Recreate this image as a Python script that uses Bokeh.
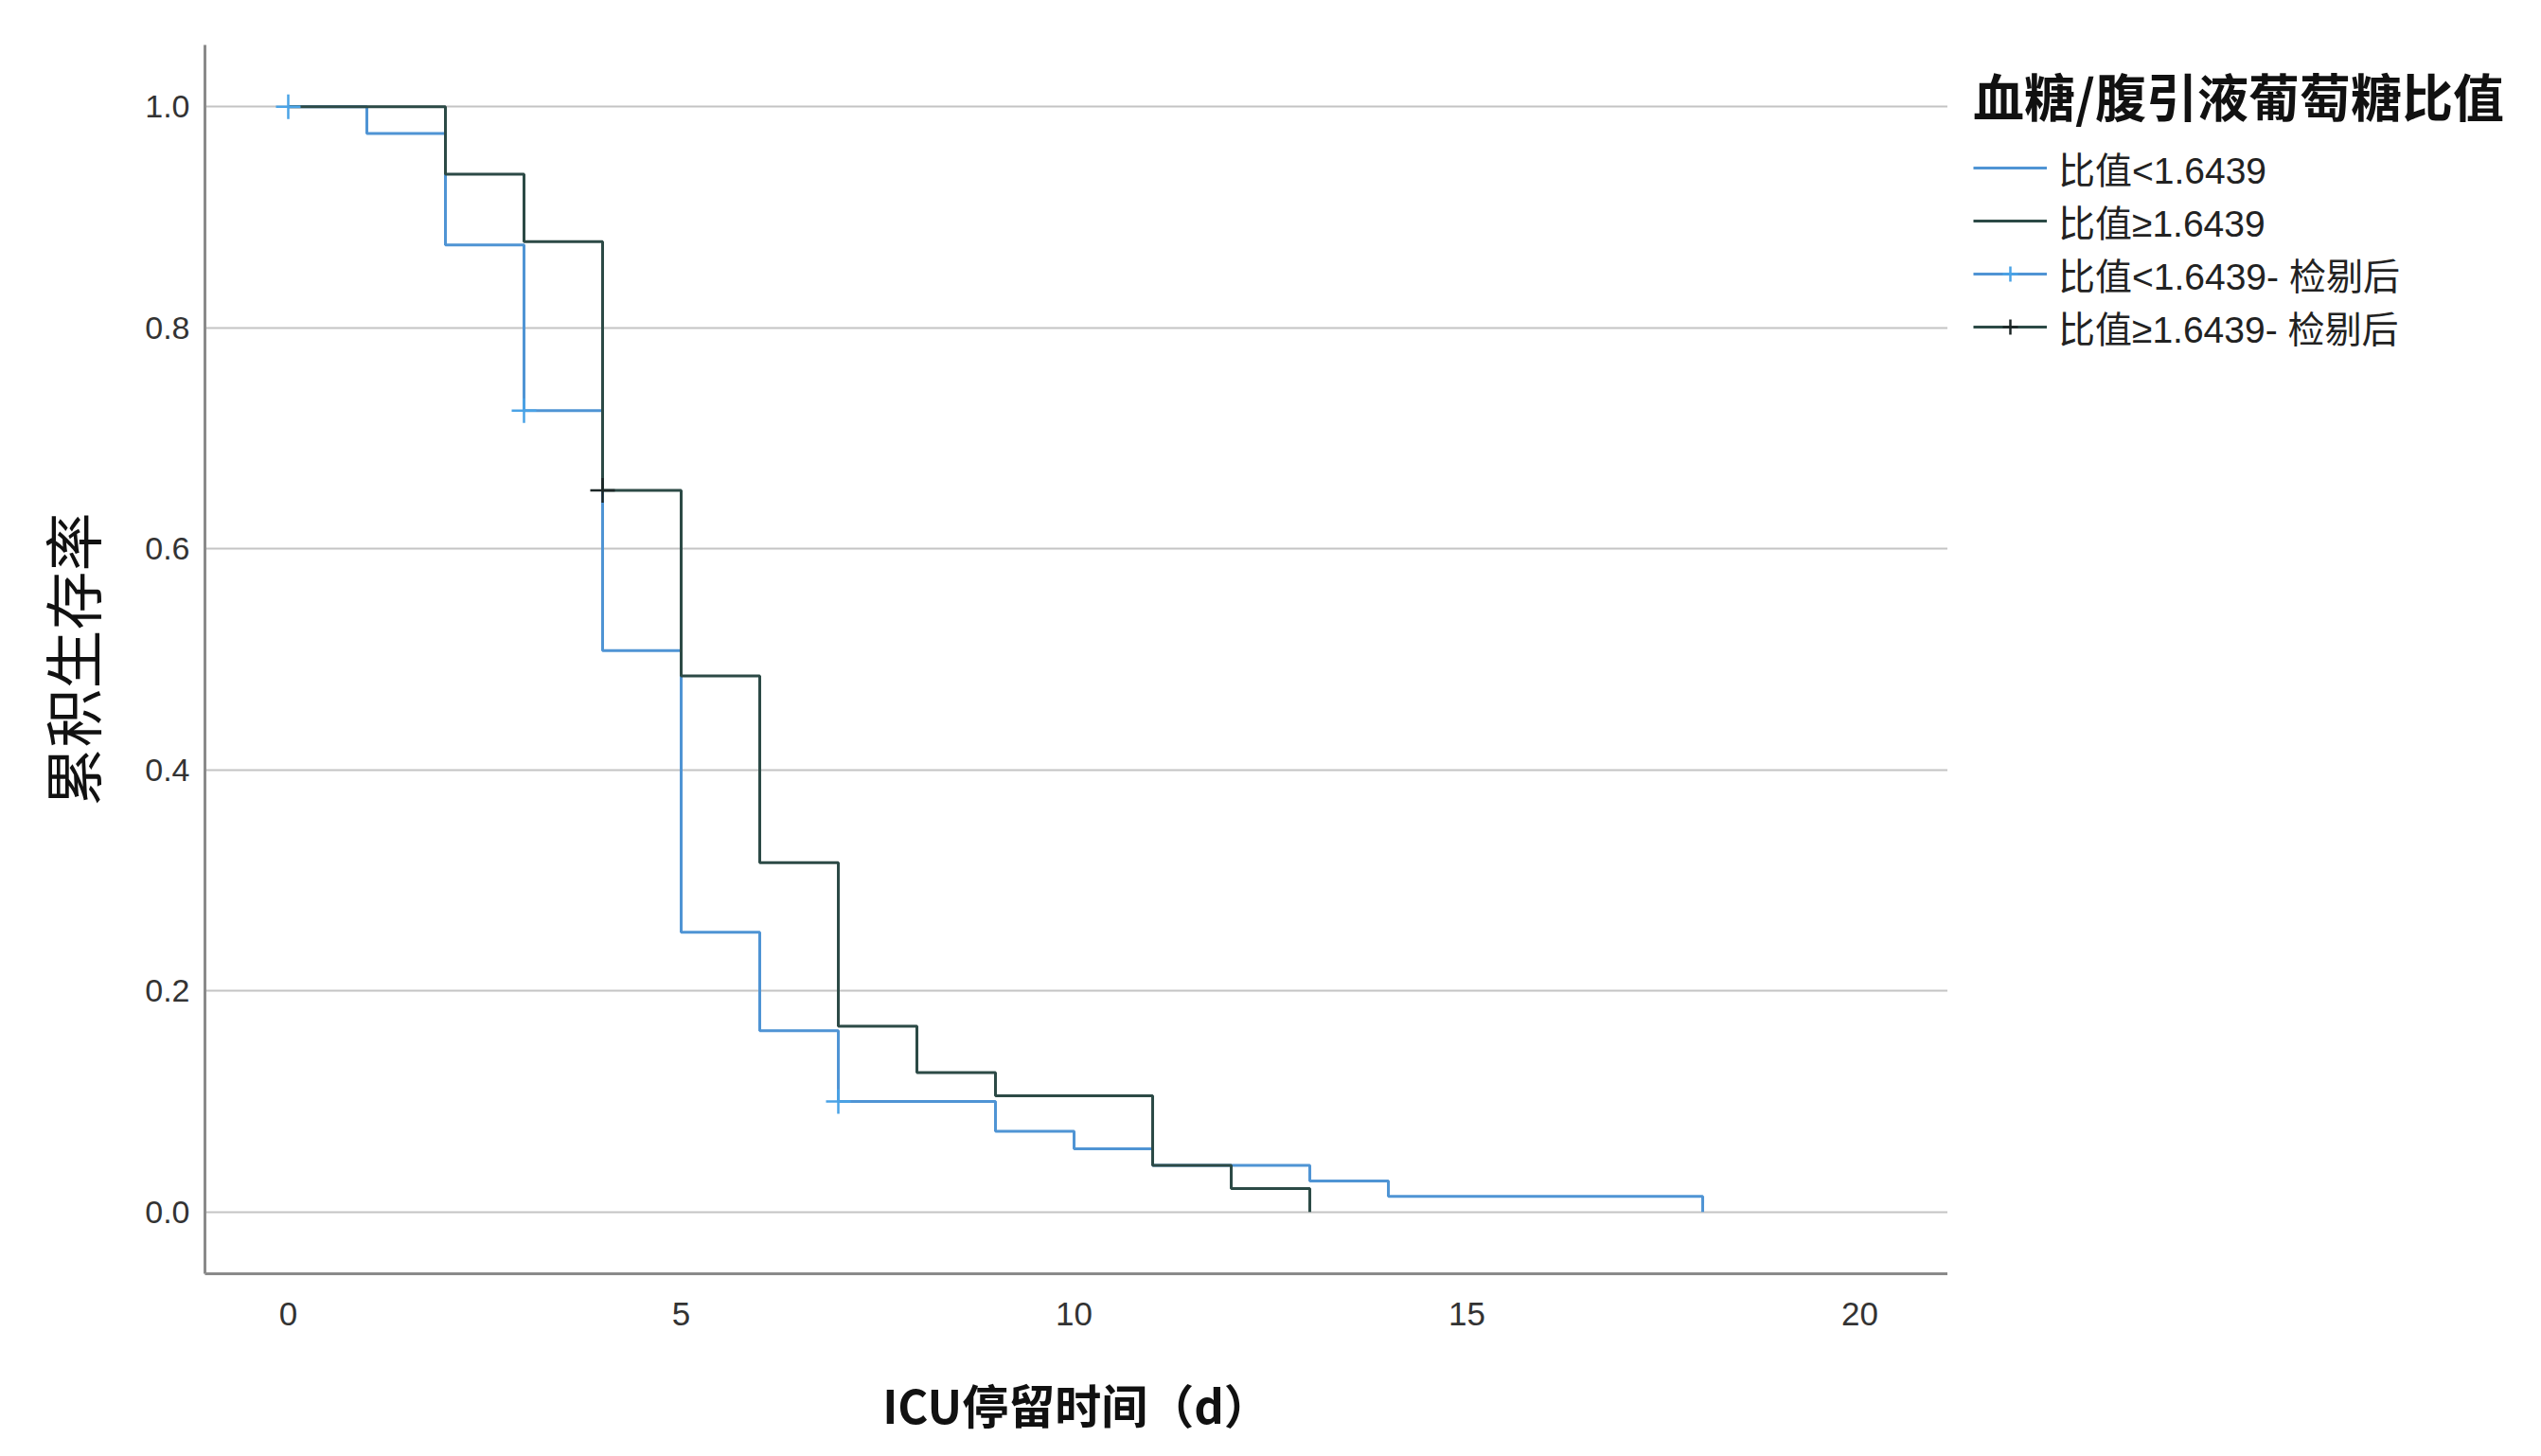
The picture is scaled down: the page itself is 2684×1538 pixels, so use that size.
from bokeh.plotting import figure
from bokeh.layouts import row
from bokeh.models import Range1d, FixedTicker, PrintfTickFormatter, Legend, LegendItem
from bokeh.embed import file_html
from bokeh.resources import INLINE

# ---- data ----
g1_time = [0, 1, 2, 3, 4, 5, 6, 7, 9, 10, 11, 13, 14, 18]
g1_surv = [1.0, 0.976, 0.875, 0.725, 0.508, 0.253, 0.164, 0.100, 0.073, 0.057, 0.042, 0.028, 0.014, 0.0]
g2_time = [0, 2, 3, 4, 5, 6, 7, 8, 9, 11, 12, 13]
g2_surv = [1.0, 0.939, 0.878, 0.653, 0.485, 0.316, 0.168, 0.126, 0.105, 0.042, 0.021, 0.0]
g1_cens_time = [0, 3, 7]
g1_cens_surv = [1.0, 0.725, 0.100]
g2_cens_time = [4]
g2_cens_surv = [0.653]
x_ticks = [0, 5, 10, 15, 20]
y_ticks = [0.0, 0.2, 0.4, 0.6, 0.8, 1.0]
labels = ["比值<1.6439", "比值≥1.6439", "比值<1.6439- 检剔后", "比值≥1.6439- 检剔后"]
legend_title = "血糖/腹引液葡萄糖比值"
x_label = "ICU停留时间（d）"
y_label = "累积生存率"

C1 = "#4f94d4"
C2 = "#2c4a46"
C1c = "#4aa3e6"
C2c = "#1c2626"

FONT = "'Liberation Sans', 'Noto Sans CJK SC', sans-serif"
CJK = "'Noto Sans CJK SC', sans-serif"

H = 1520
W_MAIN = 2057
W_LEG = 611


def draw_curves(fig):
    r1 = fig.step(g1_time, g1_surv, mode="after", line_color=C1, line_width=3)
    r2 = fig.step(g2_time, g2_surv, mode="after", line_color=C2, line_width=3)
    c1 = fig.scatter(g1_cens_time, g1_cens_surv, marker="cross", size=26, line_color=C1c, line_width=2.5)
    c2 = fig.scatter(g2_cens_time, g2_cens_surv, marker="cross", size=26, line_color=C2c, line_width=2.5)
    return r1, r2, c1, c2


p = figure(width=W_MAIN, height=H,
           x_range=Range1d(-1.06, 21.12), y_range=Range1d(-0.056, 1.056),
           output_backend="svg", toolbar_location=None,
           min_border_left=216, min_border_right=0,
           min_border_top=47, min_border_bottom=174)
p.outline_line_color = None
p.background_fill_color = "white"
p.border_fill_color = "white"

p.xgrid.visible = False
p.ygrid.grid_line_color = "#c4c4c4"
p.ygrid.grid_line_width = 2
p.ygrid.ticker = FixedTicker(ticks=y_ticks)

for ax in (p.xaxis[0], p.yaxis[0]):
    ax.axis_line_color = "#8a8a8a"
    ax.axis_line_width = 3
    ax.major_tick_line_color = None
    ax.minor_tick_line_color = None
    ax.major_label_text_font = FONT
    ax.major_label_text_color = "#333333"

p.xaxis.ticker = FixedTicker(ticks=x_ticks)
p.yaxis.ticker = FixedTicker(ticks=y_ticks)
p.yaxis.formatter = PrintfTickFormatter(format="%.1f")
p.xaxis.major_label_text_font_size = "35px"
p.yaxis.major_label_text_font_size = "34px"
p.xaxis.major_label_standoff = 24
p.yaxis.major_label_standoff = 10

p.xaxis.axis_label = x_label
p.xaxis.axis_label_text_font = CJK
p.xaxis.axis_label_text_font_size = "49px"
p.xaxis.axis_label_text_font_style = "bold"
p.xaxis.axis_label_text_color = "#111111"
p.xaxis.axis_label_standoff = 44

p.yaxis.axis_label = y_label
p.yaxis.axis_label_text_font = CJK
p.yaxis.axis_label_text_font_size = "62px"
p.yaxis.axis_label_text_font_style = "normal"
p.yaxis.axis_label_text_color = "#111111"
p.yaxis.axis_label_standoff = 30

draw_curves(p)

# legend panel: same series, drawn outside its visible range, only the legend shows
q = figure(width=W_LEG, height=H,
           x_range=Range1d(-300, -299), y_range=Range1d(-300, -299),
           output_backend="svg", toolbar_location=None,
           min_border_left=13, min_border_right=0,
           min_border_top=47, min_border_bottom=0)
q.axis.visible = False
q.grid.visible = False
q.outline_line_color = None
q.background_fill_color = "white"
q.border_fill_color = "white"
lr1, lr2, lc1, lc2 = draw_curves(q)

legend = Legend(items=[
    LegendItem(label=labels[0], renderers=[lr1]),
    LegendItem(label=labels[1], renderers=[lr2]),
    LegendItem(label=labels[2], renderers=[lr1, lc1]),
    LegendItem(label=labels[3], renderers=[lr2, lc2]),
], location="top_left")
legend.title = legend_title
legend.title_text_font = CJK
legend.title_text_font_size = "54px"
legend.title_text_font_style = "bold"
legend.title_text_color = "#111111"
legend.title_standoff = 9
legend.label_text_font = FONT
legend.label_text_font_size = "39px"
legend.label_text_color = "#222222"
legend.label_standoff = 12
legend.label_height = 40
legend.glyph_width = 78
legend.glyph_height = 40
legend.spacing = 0
legend.padding = 24
legend.margin = 14
legend.border_line_color = None
legend.background_fill_alpha = 0
q.add_layout(legend, "center")

layout = row(p, q)
open("out.html", "w").write(file_html(layout, INLINE))
